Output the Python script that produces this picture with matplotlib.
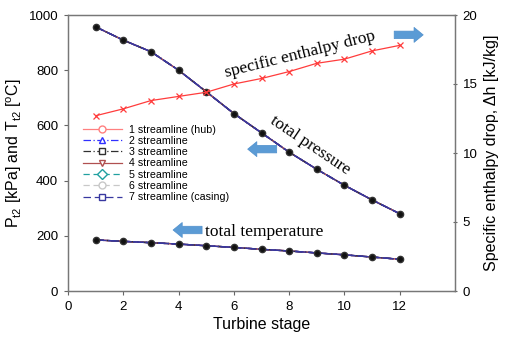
import matplotlib
matplotlib.use("Agg")
import matplotlib.pyplot as plt
from matplotlib.lines import Line2D

stages = [1, 2, 3, 4, 5, 6, 7, 8, 9, 10, 11, 12]
total_pressure = [957, 909, 867, 800, 722, 643, 573, 503, 441, 383, 330, 280]
total_temperature = [185, 180, 175, 170, 164, 158, 151, 145, 138, 131, 123, 115]
enthalpy_drop = [12.7, 13.2, 13.8, 14.1, 14.4, 15.0, 15.4, 15.9, 16.5, 16.8, 17.4, 17.8]

streamline_labels = ["1 streamline (hub)", "2 streamline", "3 streamline", "4 streamline",
                     "5 streamline", "6 streamline", "7 streamline (casing)"]
streamline_colors = ["#ff8080", "#3030ff", "#303030", "#b05050", "#20a0a0", "#c8c8c8", "#3838a0"]
streamline_markers = ["o", "^", "s", "v", "D", "o", "s"]
streamline_styles = ["-", (0, (6, 2, 1, 2)), (0, (6, 2, 1, 2)), "-", (0, (5, 3)), (0, (5, 3)), (0, (6, 3))]
plot_order = [5, 4, 1, 0, 3, 2, 6]

plt.rcParams['font.family'] = ['Liberation Sans', 'DejaVu Sans']

fig = plt.figure(figsize=(5.06, 3.43), dpi=100)
ax = fig.add_axes([68/506, 1 - 291/343, (455-68)/506, (291-15)/343])

for i in plot_order:
    ax.plot(stages, total_pressure, color=streamline_colors[i], lw=1.0, ls=streamline_styles[i], zorder=2)
    ax.plot(stages, total_temperature, color=streamline_colors[i], lw=1.0, ls=streamline_styles[i], zorder=2)
ax.plot(stages, total_pressure, color="#3838a0", lw=1.0, ls=(0, (8, 1)), zorder=2)
ax.plot(stages, total_temperature, color="#3838a0", lw=1.0, ls=(0, (8, 1)), zorder=2)
ax.plot(stages, total_pressure, ls="none", marker="o", ms=4.5, mfc="#111111", mec="#333333", zorder=3)
ax.plot(stages, total_temperature, ls="none", marker="o", ms=4.5, mfc="#111111", mec="#333333", zorder=3)

ax.set_xlim(0, 14)
ax.set_ylim(0, 1000)
ax.set_xticks([0, 2, 4, 6, 8, 10, 12])
ax.set_yticks([0, 200, 400, 600, 800, 1000])
ax.set_xlabel("Turbine stage", fontsize=11.5, labelpad=3)
ax.set_ylabel("P$_{\\mathregular{t2}}$ [kPa] and T$_{\\mathregular{t2}}$ [$^{\\mathregular{o}}$C]",
              fontsize=11.5, labelpad=3)
ax.tick_params(labelsize=9.5, length=3, color="#666666", direction="out", pad=4)
for s in ax.spines.values():
    s.set_color("#777777")
    s.set_linewidth(0.9)

ax2 = ax.twinx()
ax2.plot(stages, enthalpy_drop, color="#ff3c3c", lw=0.9, marker="x", ms=4, mew=0.9, zorder=4)
ax2.set_ylim(0, 20)
ax2.set_yticks([0, 5, 10, 15, 20])
ax2.set_ylabel("Specific enthalpy drop, \u0394h [kJ/kg]", fontsize=11.5, labelpad=5)
ax2.tick_params(labelsize=9.5, length=3, color="#666666", direction="inout", pad=4)
for s in ax2.spines.values():
    s.set_color("#777777")
    s.set_linewidth(0.9)

handles = []
for i, lab in enumerate(streamline_labels):
    handles.append(Line2D([0], [0], color=streamline_colors[i], lw=0.9, ls=streamline_styles[i],
                          marker=streamline_markers[i], ms=5, mfc="white", mec=streamline_colors[i]))
ax.legend(handles, streamline_labels, loc="upper left", bbox_to_anchor=(0.02, 0.63), frameon=False,
          fontsize=7.7, handlelength=3.6, labelspacing=0.12, handletextpad=0.7, borderpad=0.2)

serif = ['Liberation Serif', 'DejaVu Serif']
ax.text(8.4, 855, "specific enthalpy drop", family=serif, fontsize=12.5, rotation=14,
        ha="center", va="center")
ax.text(8.76, 529, "total pressure", family=serif, fontsize=12.5, rotation=-34,
        ha="center", va="center")
ax.text(7.1, 214, "total temperature", family=serif, fontsize=12.5, ha="center", va="center")

def block_arrow(x0, y0, x1, y1):
    ax.annotate("", xy=(x1, y1), xytext=(x0, y0),
                arrowprops=dict(arrowstyle="simple,head_length=0.55,head_width=0.9,tail_width=0.45",
                                fc="#5b9bd5", ec="#4f8fcc", lw=0.5, mutation_scale=12,
                                shrinkA=0, shrinkB=0))
block_arrow(11.8, 928, 12.85, 928)
block_arrow(7.55, 514, 6.5, 514)
block_arrow(4.85, 221, 3.8, 221)

fig.savefig("out.png", dpi=100)
